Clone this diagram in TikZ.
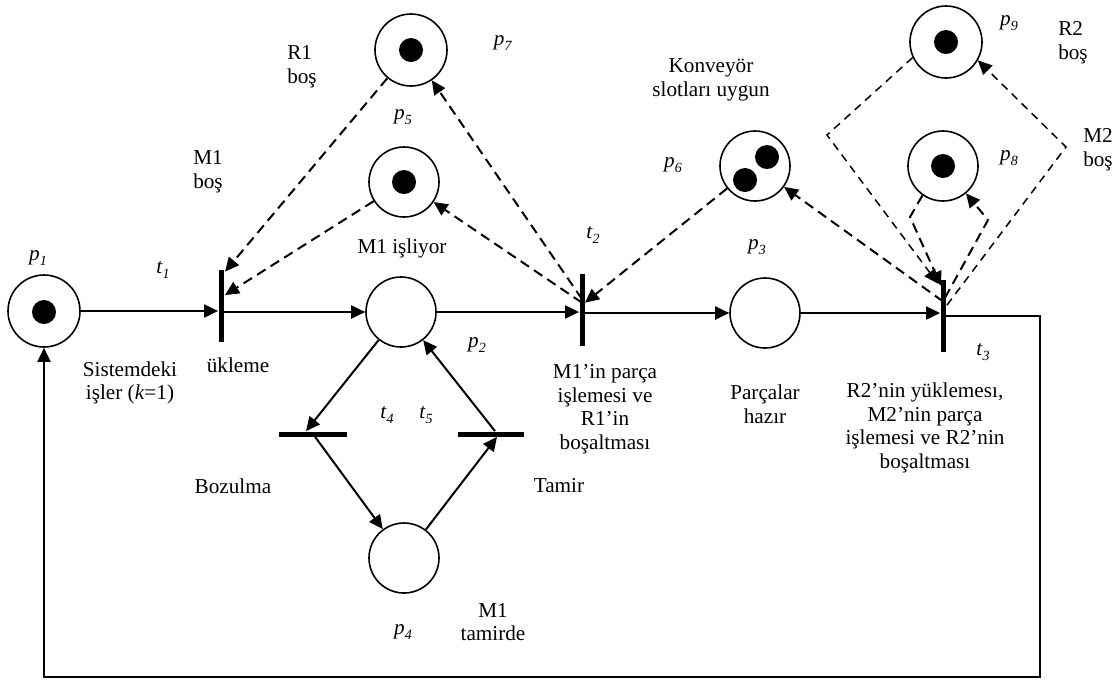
\documentclass[tikz,border=0pt]{standalone}
\usepackage{fontspec}
\setmainfont{Liberation Serif}
\usetikzlibrary{arrows.meta,calc,shapes}
\newcommand{\etiq}[2]{\textit{#1}\raisebox{-0.45ex}{\scriptsize\textit{#2}}}

\begin{document}
\begin{tikzpicture}[x=0.5pt,y=-0.5pt,font=\fontsize{10.6}{11.8}\selectfont]
\useasboundingbox (0,0) rectangle (1119,682);
%stiller
\tikzstyle{yer}=[circle,draw,line width=0.8pt,minimum size=35pt,inner sep=0pt]
\tikzstyle{gecisdik}=[rectangle,fill=black,minimum width=2.5pt,minimum height=36pt,inner sep=0pt]
\tikzstyle{gecisyatay}=[rectangle,fill=black,minimum width=34pt,minimum height=2.5pt,inner sep=0pt]
\tikzstyle{yazi}=[align=center,inner sep=0pt]
%oklar
\tikzstyle{ok}=[-{Triangle[length=7pt,width=6.5pt]},line width=1pt]
\tikzstyle{kesik}=[-{Triangle[length=7pt,width=6.5pt]},line width=1pt,dash pattern=on 5pt off 3pt]
\tikzstyle{kesikince}=[-{Triangle[length=7pt,width=6.5pt]},line width=0.75pt,dash pattern=on 4pt off 3pt]
%yerler
\node[yer,minimum size=36pt] (p1) at (44,311) {};
\node[yer] (p2) at (401,312) {};
\node[yer] (p3) at (765,313) {};
\node[yer] (p4) at (404,558) {};
\node[yer] (p5) at (404,182) {};
\node[yer] (p6) at (755,166) {};
\node[yer,minimum size=36pt] (p7) at (411,50) {};
\node[yer] (p8) at (943,166) {};
\node[yer,minimum size=36pt] (p9) at (946,42) {};
%jetonlar
\fill ($(p1.center)+(0,1)$) circle (6pt);
\fill (p5.center) circle (6pt);
\fill (p7.center) circle (6pt);
\fill ($(p6.center)+(12,-9)$) circle (6pt);
\fill ($(p6.center)+(-10,14)$) circle (6pt);
\fill (p8.center) circle (6pt);
\fill (p9.center) circle (6pt);
%gecisler
\node[gecisdik] (t1) at (221,306) {};
\node[gecisdik] (t2) at (582,310) {};
\node[gecisdik] (t3) at (943,316) {};
\node[gecisyatay] (t4) at (313,434) {};
\node[gecisyatay,minimum width=33pt] (t5) at (491,434) {};
\coordinate (donus) at (1040,677);
\coordinate (k9a) at (827,135);
\coordinate (k9b) at (1066,147);
\coordinate (k8a) at (910,217);
\coordinate (k8b) at (988,220);
%etiketler
\node (lp1) at (38,258) {\etiq{p}{1}};
\node (lt1) at (163,270) {\etiq{t}{1}};
\node (lt2) at (593,235) {\etiq{t}{2}};
\node (lt3) at (983,352) {\etiq{t}{3}};
\node (lt4) at (387,415) {\etiq{t}{4}};
\node (lt5) at (426,415) {\etiq{t}{5}};
\node (lp2) at (477,345) {\etiq{p}{2}};
\node (lp3) at (757,247) {\etiq{p}{3}};
\node (lp4) at (403,632) {\etiq{p}{4}};
\node (lp5) at (403,117) {\etiq{p}{5}};
\node (lp6) at (673,165) {\etiq{p}{6}};
\node (lp7) at (503,43) {\etiq{p}{7}};
\node (lp8) at (1009,158) {\etiq{p}{8}};
\node (lp9) at (1009,23) {\etiq{p}{9}};
\node[yazi] (sistem) at (130,383) {Sistemdeki\\işler (\textit{k}=1)};
\node[yazi] (yukle) at (238,365) {ükleme};
\node[yazi,align=left] (m1bos) at (208,172) {M1\\boş};
\node[yazi,align=left] (r1bos) at (302,67) {R1\\boş};
\node[yazi] (isliyor) at (402,248) {M1 işliyor};
\node[yazi] (bozulma) at (233,486) {Bozulma};
\node[yazi] (tamir) at (559,486) {Tamir};
\node[yazi] (tamirde) at (493,622) {M1\\tamirde};
\node[yazi] (bosalt1) at (605,409) {M1’in parça\\işlemesi ve\\R1’in\\boşaltması};
\node[yazi] (hazir) at (765,404) {Parçalar\\hazır};
\node[yazi] (bosalt2) at (925,428) {R2’nin yüklemesı,\\M2’nin parça\\işlemesi ve R2’nin\\boşaltması};
\node[yazi] (konveyor) at (711,80) {Konveyör\\slotları uygun};
\node[yazi,align=left] (r2bos) at (1073,43) {R2\\boş};
\node[yazi,align=left] (m2bos) at (1098,150) {M2\\boş};
%duzoklar
\draw[ok] (p1.east) -- (p1.east -| t1.west);
\draw[ok] (t1.center |- p2.west) -- (p2.west);
\draw[ok] (p2.east) -- (p2.east -| t2.west);
\draw[ok] (t2.center |- p3.west) -- (p3.west);
\draw[ok] (p3.east) -- (p3.east -| t3.west);
\draw[ok] (p2) -- ($(t4.north)+(-7,0)$);
\draw[ok] (t4) -- (p4);
\draw[ok] (p4) -- ($(t5.south)+(6,0)$);
\draw[ok] ($(t5.north)+(4,0)$) -- (p2);
\draw[ok,line width=0.8pt] (t3.center) -| (donus) -| (p1.south);
%kesikoklar
\draw[kesik] (p7) -- ($(t1.north)+(4,2)$);
\draw[kesik] (p5) -- ($(t1.north)!0.35!(t1.south)+(4,0)$);
\draw[kesik] ($(t2.north)!0.4!(t2.south)$) -- (p5);
\draw[kesik] ($(t2.north)!0.35!(t2.south)$) -- (p7);
\draw[kesik] (p6) -- ($(t2.north)!0.4!(t2.south)+(3,0)$);
\draw[kesik] ($(t3.north)!0.3!(t3.south)$) -- (p6);
\draw[kesikince] (p9.205) -- (k9a) -- ($(t3.north)+(-5,4)$);
\draw[kesikince] ($(t3.north)!0.35!(t3.south)+(4,0)$) -- (k9b) -- (p9.-30);
\draw[kesik] (p8.235) -- (k8a) -- ($(t3.north)+(-2,6)$);
\draw[kesik] ($(t3.north)!0.25!(t3.south)+(2,0)$) -- (k8b) -- (p8.-50);
\end{tikzpicture}
\end{document}
